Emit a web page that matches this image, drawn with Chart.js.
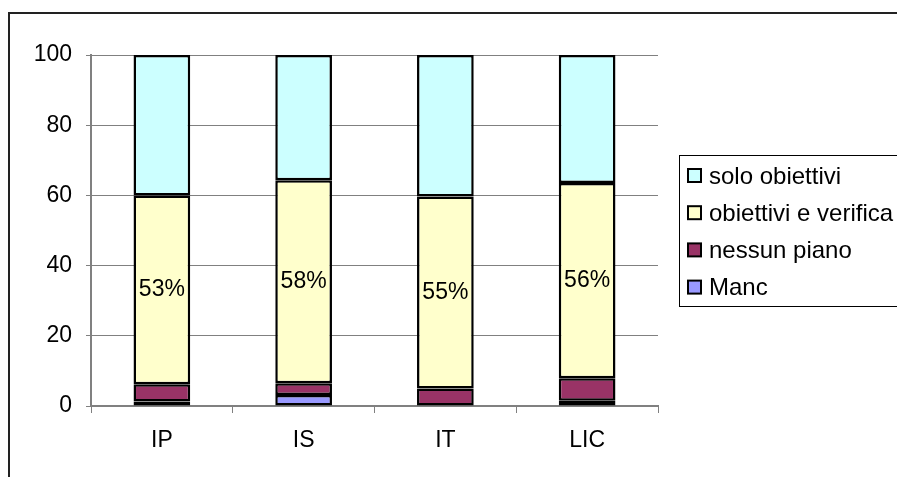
<!DOCTYPE html>
<html lang="it">
<head>
  <meta charset="UTF-8">
  <title>Piani</title>
  <script src="https://cdn.jsdelivr.net/npm/chart.js"></script>
  <style>
    body { margin: 0; background: #fff; }
    #wrap { width: 897px; height: 477px; }
  </style>
</head>
<body>
  <div id="wrap"><canvas id="grafico" width="897" height="477"></canvas></div>

  <script>
    // Dati del grafico
    const categorie = ['IP', 'IS', 'IT', 'LIC'];
    const manc = [1.3, 3.1, 0, 1.5];
    const nessunPiano = [4.9, 3.4, 5.0, 6.4];
    const obiettiviVerifica = [53.8, 57.8, 54.7, 55.6];
    const soloObiettivi = [40.0, 35.7, 40.3, 36.5];
    const etichette = ['53%', '58%', '55%', '56%'];
    const yTicks = [0, 20, 40, 60, 80, 100];

    const font = '"Liberation Sans", Arial, sans-serif';
    Chart.defaults.font.family = font;
    Chart.defaults.font.size = 22;
    Chart.defaults.color = '#000';

    // cornice esterna
    const cornice = {
      id: 'cornice',
      beforeDraw(chart) {
        const c = chart.ctx;
        c.save();
        c.fillStyle = '#fff';
        c.fillRect(0, 0, chart.width, chart.height);
        c.strokeStyle = '#222';
        c.lineWidth = 2;
        c.strokeRect(9, 13, chart.width + 20, chart.height + 20);
        c.restore();
      }
    };

    // percentuali dentro la fascia gialla
    const percentuali = {
      id: 'percentuali',
      afterDatasetsDraw(chart) {
        const c = chart.ctx;
        const meta = chart.getDatasetMeta(2);
        c.save();
        c.font = '23px ' + font;
        c.fillStyle = '#000';
        c.textAlign = 'center';
        c.textBaseline = 'middle';
        meta.data.forEach((bar, i) => {
          const p = bar.getCenterPoint();
          c.fillText(etichette[i], p.x, p.y);
        });
        c.restore();
      }
    };

    // legenda con riquadro, come in Excel
    const legenda = {
      id: 'legenda',
      afterDraw(chart) {
        const c = chart.ctx;
        c.save();
        c.strokeStyle = '#000';
        c.lineWidth = 1;
        c.strokeRect(679.5, 155.5, 240, 151);
        c.font = '24px ' + font;
        c.textBaseline = 'middle';
        const ds = chart.data.datasets.slice().reverse();
        ds.forEach((d, i) => {
          const y = 176 + i * 37.2;
          c.fillStyle = d.backgroundColor;
          c.fillRect(688, y - 7, 13, 13);
          c.lineWidth = 2;
          c.strokeRect(688, y - 7, 13, 13);
          c.fillStyle = '#000';
          c.fillText(d.label, 709, y + 1);
        });
        c.restore();
      }
    };

    const ctx = document.getElementById('grafico').getContext('2d');
    new Chart(ctx, {
      type: 'bar',
      data: {
        labels: categorie,
        datasets: [
          { label: 'Manc', data: manc, backgroundColor: '#9999FF' },
          { label: 'nessun piano', data: nessunPiano, backgroundColor: '#993366' },
          { label: 'obiettivi e verifica', data: obiettiviVerifica, backgroundColor: '#FFFFCC' },
          { label: 'solo obiettivi', data: soloObiettivi, backgroundColor: '#CCFFFF' }
        ]
      },
      options: {
        responsive: false,
        animation: false,
        layout: { padding: { left: 9, top: 55, right: 239, bottom: 0 } },
        datasets: {
          bar: {
            borderColor: '#000',
            borderWidth: 2.5,
            borderSkipped: false,
            categoryPercentage: 1,
            barPercentage: 0.4
          }
        },
        plugins: {
          legend: { display: false },
          tooltip: { enabled: false }
        },
        scales: {
          x: {
            stacked: true,
            grid: { drawOnChartArea: false, drawTicks: true, tickLength: 7, color: '#808080' },
            border: { color: '#808080', width: 2 },
            ticks: { padding: 14, font: { size: 23 } },
            afterFit(s) { s.height = 71; }
          },
          y: {
            stacked: true,
            min: 0,
            max: 100,
            afterBuildTicks(s) { s.ticks = yTicks.map(v => ({ value: v })); },
            grid: { color: '#808080', tickLength: 5 },
            border: { color: '#808080', width: 2 },
            ticks: { padding: 14, font: { size: 23 } },
            afterFit(s) { s.width = 82; }
          }
        }
      },
      plugins: [cornice, percentuali, legenda]
    });
  </script>
</body>
</html>
